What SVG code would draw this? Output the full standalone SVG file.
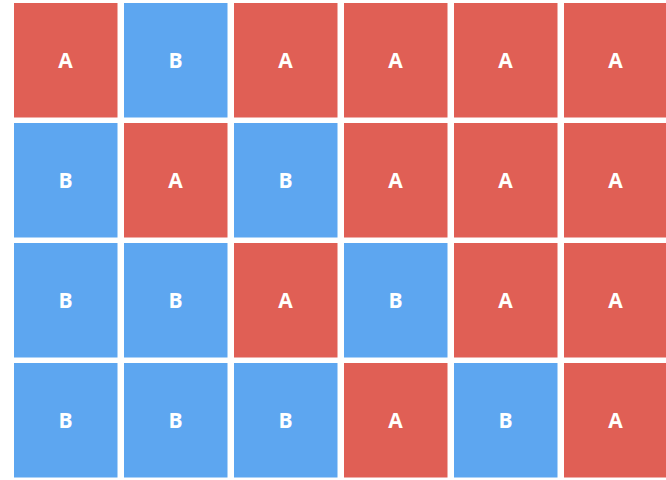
<svg xmlns="http://www.w3.org/2000/svg" width="666" height="480" viewBox="0 0 666 480">
<style>
.a{fill:#e05f55}
.b{fill:#5da6f0}
text{fill:#fff;font-family:"Open Sans","Liberation Sans",sans-serif;font-size:21px;font-weight:700;text-anchor:middle;dominant-baseline:central}
</style>
<rect width="666" height="480" fill="#fff"/>
<g id="r0c0"><rect class="a" x="14" y="3" width="103.5" height="114.5"/><text x="65.5" y="59.5">A</text></g>
<g id="r0c1"><rect class="b" x="124" y="3" width="103.5" height="114.5"/><text x="175.5" y="59.5">B</text></g>
<g id="r0c2"><rect class="a" x="234" y="3" width="103.5" height="114.5"/><text x="285.5" y="59.5">A</text></g>
<g id="r0c3"><rect class="a" x="344" y="3" width="103.5" height="114.5"/><text x="395.5" y="59.5">A</text></g>
<g id="r0c4"><rect class="a" x="454" y="3" width="103.5" height="114.5"/><text x="505.5" y="59.5">A</text></g>
<g id="r0c5"><rect class="a" x="564" y="3" width="103.5" height="114.5"/><text x="615.5" y="59.5">A</text></g>
<g id="r1c0"><rect class="b" x="14" y="123" width="103.5" height="114.5"/><text x="65.5" y="179.5">B</text></g>
<g id="r1c1"><rect class="a" x="124" y="123" width="103.5" height="114.5"/><text x="175.5" y="179.5">A</text></g>
<g id="r1c2"><rect class="b" x="234" y="123" width="103.5" height="114.5"/><text x="285.5" y="179.5">B</text></g>
<g id="r1c3"><rect class="a" x="344" y="123" width="103.5" height="114.5"/><text x="395.5" y="179.5">A</text></g>
<g id="r1c4"><rect class="a" x="454" y="123" width="103.5" height="114.5"/><text x="505.5" y="179.5">A</text></g>
<g id="r1c5"><rect class="a" x="564" y="123" width="103.5" height="114.5"/><text x="615.5" y="179.5">A</text></g>
<g id="r2c0"><rect class="b" x="14" y="243" width="103.5" height="114.5"/><text x="65.5" y="299.5">B</text></g>
<g id="r2c1"><rect class="b" x="124" y="243" width="103.5" height="114.5"/><text x="175.5" y="299.5">B</text></g>
<g id="r2c2"><rect class="a" x="234" y="243" width="103.5" height="114.5"/><text x="285.5" y="299.5">A</text></g>
<g id="r2c3"><rect class="b" x="344" y="243" width="103.5" height="114.5"/><text x="395.5" y="299.5">B</text></g>
<g id="r2c4"><rect class="a" x="454" y="243" width="103.5" height="114.5"/><text x="505.5" y="299.5">A</text></g>
<g id="r2c5"><rect class="a" x="564" y="243" width="103.5" height="114.5"/><text x="615.5" y="299.5">A</text></g>
<g id="r3c0"><rect class="b" x="14" y="363" width="103.5" height="114.5"/><text x="65.5" y="419.5">B</text></g>
<g id="r3c1"><rect class="b" x="124" y="363" width="103.5" height="114.5"/><text x="175.5" y="419.5">B</text></g>
<g id="r3c2"><rect class="b" x="234" y="363" width="103.5" height="114.5"/><text x="285.5" y="419.5">B</text></g>
<g id="r3c3"><rect class="a" x="344" y="363" width="103.5" height="114.5"/><text x="395.5" y="419.5">A</text></g>
<g id="r3c4"><rect class="b" x="454" y="363" width="103.5" height="114.5"/><text x="505.5" y="419.5">B</text></g>
<g id="r3c5"><rect class="a" x="564" y="363" width="103.5" height="114.5"/><text x="615.5" y="419.5">A</text></g>
<g id="connectors"></g>
</svg>
